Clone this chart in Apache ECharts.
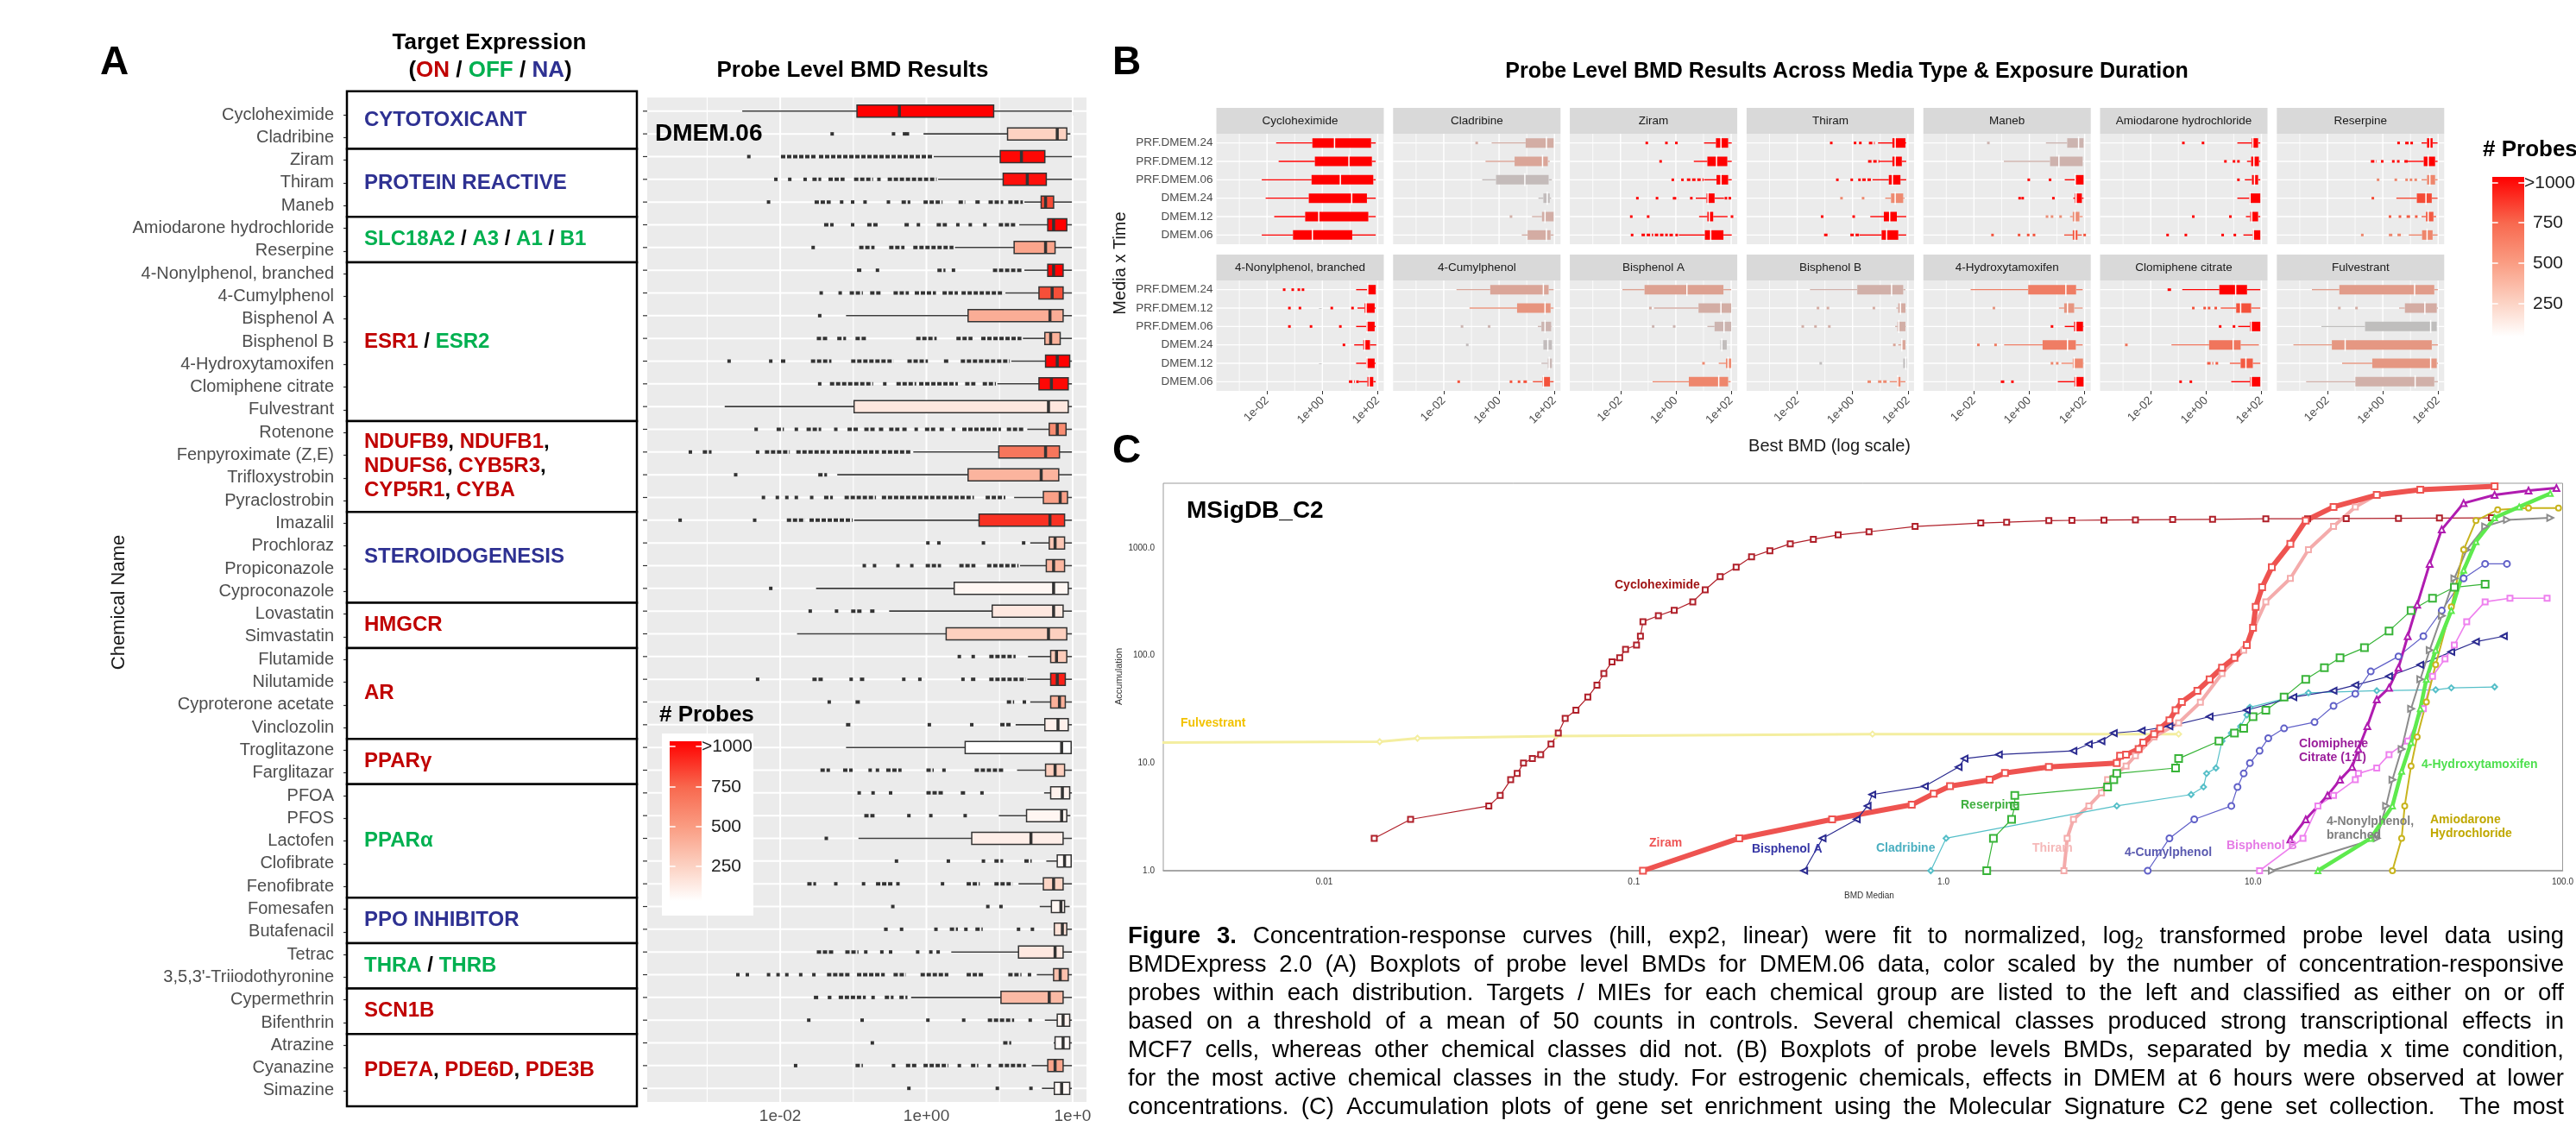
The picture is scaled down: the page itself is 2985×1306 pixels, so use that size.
<!DOCTYPE html>
<html><head><meta charset="utf-8">
<script src="https://cdn.jsdelivr.net/npm/echarts/dist/echarts.min.js"></script>
<style>html,body{margin:0;padding:0;background:#fff;}#c{width:2985px;height:1306px;}</style>
</head><body><div id="c"></div>
<script>
const FONT = '"Liberation Sans", Arial, Helvetica, sans-serif';

// ================= DATA: Panel A (DMEM.06 probe-level BMDs, log10 units) =================
const chemicals = ['Cycloheximide','Cladribine','Ziram','Thiram','Maneb','Amiodarone hydrochloride','Reserpine',
 '4-Nonylphenol, branched','4-Cumylphenol','Bisphenol A','Bisphenol B','4-Hydroxytamoxifen','Clomiphene citrate','Fulvestrant',
 'Rotenone','Fenpyroximate (Z,E)','Trifloxystrobin','Pyraclostrobin','Imazalil','Prochloraz','Propiconazole','Cyproconazole',
 'Lovastatin','Simvastatin','Flutamide','Nilutamide','Cyproterone acetate','Vinclozolin','Troglitazone','Farglitazar',
 'PFOA','PFOS','Lactofen','Clofibrate','Fenofibrate','Fomesafen','Butafenacil','Tetrac',"3,5,3'-Triiodothyronine",
 'Cypermethrin','Bifenthrin','Atrazine','Cyanazine','Simazine'];
// [whisker low, Q1, median, Q3, whisker high] in log10(BMD)
const boxA = [
 [-2.52,-0.95,-0.37,0.92,1.99],[-0.04,1.11,1.79,1.92,1.97],[0.10,1.01,1.30,1.62,1.99],[0.16,1.05,1.38,1.64,1.99],
 [1.34,1.57,1.63,1.74,1.99],[1.27,1.66,1.74,1.92,1.99],[0.39,1.20,1.63,1.76,1.99],[1.34,1.66,1.74,1.87,1.99],
 [1.08,1.54,1.72,1.87,1.99],[-1.10,0.57,1.69,1.87,1.99],[1.32,1.62,1.70,1.83,1.99],[1.16,1.63,1.79,1.96,1.99],
 [0.97,1.54,1.71,1.94,1.99],[-2.76,-0.99,1.67,1.94,1.99],[1.38,1.68,1.79,1.91,1.99],[-0.18,0.99,1.63,1.82,1.99],
 [-1.22,0.57,1.57,1.81,1.99],[1.20,1.60,1.83,1.93,1.99],[-0.99,0.72,1.69,1.89,1.99],[1.42,1.68,1.76,1.89,1.99],
 [1.28,1.64,1.74,1.89,1.99],[-1.51,0.38,1.74,1.94,1.99],[-0.51,0.90,1.74,1.87,1.99],[-1.77,0.27,1.67,1.92,1.99],
 [1.39,1.70,1.78,1.92,1.99],[1.38,1.70,1.79,1.90,1.99],[1.42,1.70,1.82,1.90,1.99],[1.22,1.62,1.80,1.94,1.99],
 [-1.10,0.53,1.85,1.98,1.99],[1.24,1.63,1.76,1.89,1.99],[1.61,1.70,1.86,1.96,1.99],[0.99,1.37,1.85,1.92,1.97],
 [-0.93,0.62,1.43,1.87,1.99],[1.64,1.79,1.89,1.98,1.99],[1.26,1.60,1.74,1.87,1.99],[1.55,1.71,1.84,1.89,1.96],
 [1.74,1.75,1.86,1.92,1.99],[0.34,1.26,1.76,1.87,1.99],[1.51,1.74,1.83,1.94,1.99],[-0.21,1.02,1.68,1.87,1.99],
 [1.62,1.79,1.87,1.96,1.99],[1.74,1.76,1.87,1.96,1.99],[1.44,1.66,1.76,1.87,1.99],[1.58,1.75,1.85,1.96,1.99]];
const probesA = [1000,240,980,960,800,1000,450,1000,790,410,390,1000,980,130,560,650,380,470,870,290,370,45,
 120,250,270,920,400,80,5,255,70,50,90,30,225,45,160,120,320,350,60,25,450,35];
// outliers: single log10 values or [from, to] runs of dense points
const outliersA = [
 [], [-1.29,-0.45,-0.30,-0.26], [-2.43,[-1.99,-1.50],[-1.47,0.08]],
 [-2.06,-1.87,-1.66,[-1.56,-1.44],[-1.34,-1.12],[-0.99,-0.73],-0.65,[-0.53,0.14]],
 [-2.16,[-1.53,-1.31],-1.16,-1.01,-0.84,-0.52,[-0.34,-0.22],[-0.04,0.22],[0.44,0.53],[0.67,0.75],[0.85,1.05],[1.12,1.32]],
 [[-1.40,-1.27],-1.01,[-0.81,-0.65],[-0.30,-0.24],-0.11,[0.14,0.28],0.43,0.60,0.80,[0.99,1.22]],
 [-1.55,[-0.92,-0.71],[-0.51,-0.30],[-0.18,0.37]],
 [[-0.95,-0.89],-0.67,[0.15,0.26],[0.37,0.41],[0.91,1.32]],
 [-1.44,-1.18,[-1.05,-0.87],[-0.77,-0.61],[-0.45,-0.24],[-0.16,0.13],[0.22,0.43],[0.48,1.06]],
 [-1.46],
 [[-1.50,-1.34],[-1.22,-1.10],[-0.97,-0.82],[-0.14,0.14],[0.41,0.63],[0.75,1.30]],
 [-2.70,-2.13,[-1.99,-1.91],[-1.58,-1.30],[-1.03,-0.45],[-0.26,0.02],[0.24,0.32],[0.47,1.14]],
 [-1.46,[-1.32,-0.73],-0.57,[-0.41,-0.14],[-0.10,0.43],[0.53,0.67],[0.77,0.95]],
 [],
 [-2.33,[-2.05,-1.95],-1.78,[-1.64,-1.44],-1.24,[-1.08,-0.93],[-0.85,-0.69],[-0.65,-0.57],[-0.51,-0.37],[-0.33,-0.26],-0.14,[-0.02,0.12],[0.18,0.24],0.37,[0.49,1.02],[1.10,1.34]],
 [-3.23,[-3.06,-2.94],-2.31,[-2.21,-1.87],[-1.78,-1.32],[-1.28,-0.65],[-0.61,-0.22]],
 [-2.61,[-1.48,-1.36]],
 [-2.23,-2.04,-1.91,-1.78,-1.57,[-1.40,-1.28],[-1.12,-0.69],[-0.61,0.65],[0.81,1.08]],
 [-3.37,-2.35,[-1.91,-1.66],[-1.60,-1.01]],
 [0.02,0.17,0.78,1.33],
 [-0.85,-0.71,-0.39,-0.20,[-0.01,0.20],[0.45,0.67],[0.83,1.26]],
 [-2.13],
 [-1.59,-1.23,[-1.03,-0.87],[-0.77,-0.70]],
 [],
 [0.45,0.64,[0.86,1.22]],
 [-2.31,[-1.56,-1.40],-1.03,[-0.91,-0.83],-0.31,-0.09,0.50,[0.61,0.69],[0.86,1.36]],
 [-1.33,[-0.97,-0.89],[1.10,1.20],[1.34,1.38]],
 [[-1.10,-1.02],0.04,0.62,[1.01,1.16]],
 [],
 [[-1.45,-1.32],[-1.14,-1.01],-0.77,-0.67,[-0.55,-0.34],[0.00,0.10],0.24,[0.66,1.05]],
 [-0.92,-0.73,-0.49,[0.00,0.24],[0.47,0.53],0.76],
 [[-0.85,-0.71],-0.24,0.06,0.53],
 [-1.37],
 [-0.41,0.30,0.78,[0.93,1.05],[1.34,1.44]],
 [[-1.63,-1.51],-1.24,-0.86,[-0.69,-0.45],-0.39,0.22,[0.55,0.73],[0.93,1.18]],
 [-0.46,0.84,1.02],
 [[-0.58,-0.53],-0.34,0.13,[0.32,0.43],0.54,[0.67,0.77],1.26,1.45],
 [[-1.50,-1.26],[-1.11,-0.93],-0.83,-0.61,-0.49,-0.12,0.06,0.16],
 [-2.58,-2.45,-2.16,-2.03,-1.91,-1.72,-1.54,[-1.36,-1.05],[-0.95,-0.57],[-0.45,-0.28],[-0.08,0.30],[0.55,0.79],[1.12,1.30],1.41],
 [[-1.54,-1.46],[-1.35,-1.30],[-1.20,-0.83],-0.73,[-0.57,-0.45],[-0.37,-0.26]],
 [-1.61,-0.88,0.02,0.51,[0.84,1.20],1.42],
 [-0.74,[1.05,1.16]],
 [-1.79,[-0.97,-0.87],-0.45,[-0.28,-0.12],[-0.04,0.30],0.45,[0.61,0.71],0.86,[0.99,1.36]],
 [-0.24,0.97,1.43]];
// target groups: row ranges and label parts [text, status]
const groupRows = [[0,1],[2,4],[5,6],[7,13],[14,17],[18,21],[22,23],[24,27],[28,29],[30,34],[35,36],[37,38],[39,40],[41,43]];
const groupLabels = [
 [[['CYTOTOXICANT','NA']]],
 [[['PROTEIN REACTIVE','NA']]],
 [[['SLC18A2','OFF'],[' / ','SEP'],['A3','OFF'],[' / ','SEP'],['A1','OFF'],[' / ','SEP'],['B1','OFF']]],
 [[['ESR1','ON'],[' / ','SEP'],['ESR2','OFF']]],
 [[['NDUFB9','ON'],[', ','SEP'],['NDUFB1','ON'],[',','SEP']],[['NDUFS6','ON'],[', ','SEP'],['CYB5R3','ON'],[',','SEP']],[['CYP5R1','ON'],[', ','SEP'],['CYBA','ON']]],
 [[['STEROIDOGENESIS','NA']]],
 [[['HMGCR','ON']]],
 [[['AR','ON']]],
 [[['PPARγ','ON']]],
 [[['PPARα','OFF']]],
 [[['PPO INHIBITOR','NA']]],
 [[['THRA','OFF'],[' / ','SEP'],['THRB','OFF']]],
 [[['SCN1B','ON']]],
 [[['PDE7A','ON'],[', ','SEP'],['PDE6D','ON'],[', ','SEP'],['PDE3B','ON']]]];

// ================= DATA: Panel B =================
const facetNames = ['Cycloheximide','Cladribine','Ziram','Thiram','Maneb','Amiodarone hydrochloride','Reserpine',
 '4-Nonylphenol, branched','4-Cumylphenol','Bisphenol A','Bisphenol B','4-Hydroxytamoxifen','Clomiphene citrate','Fulvestrant'];
const conditions = ['PRF.DMEM.24','PRF.DMEM.12','PRF.DMEM.06','DMEM.24','DMEM.12','DMEM.06'];
const boxB = [
 [[-1.67,-0.36,0.44,1.76,1.93],[-1.58,-0.27,0.96,1.79,1.93],[-2.19,-0.39,0.65,1.84,1.93],[-2.05,-0.49,1.06,1.61,1.93],[-1.74,-0.62,-0.13,1.66,1.93],[-2.19,-1.06,-0.36,1.08,1.93]],
 [[-0.27,0.96,1.71,1.97,1.97],[-0.49,0.56,1.57,1.76,1.83],[-0.61,-0.11,0.93,1.79,1.91],[1.42,1.60,1.74,1.83,1.88],[1.19,1.55,1.66,1.97,1.97],[0.82,1.03,1.71,1.86,1.97]],
 [[1.02,1.45,1.63,1.89,2.02],[0.65,1.14,1.47,1.86,2.02],[1.02,1.47,1.63,1.89,2.02],[0.72,1.11,1.16,1.40,1.74],[0.84,1.14,1.21,1.35,1.87],[0.11,1.05,1.26,1.72,2.02]],
 [[0.92,1.44,1.54,1.91,1.94],[0.97,1.44,1.54,1.78,1.94],[0.72,1.31,1.44,1.73,1.94],[1.18,1.39,1.54,1.83,1.88],[0.64,1.13,1.34,1.60,1.94],[0.25,1.05,1.23,1.65,1.94]],
 [[0.60,1.37,1.78,1.96,1.96],[-0.92,0.75,1.07,1.93,1.93],[1.28,1.65,1.66,1.96,1.96],[1.59,1.65,1.69,1.90,1.96],[1.47,1.57,1.65,1.81,1.93],[1.26,1.57,1.65,1.74,1.90]],
 [[1.13,1.65,1.69,1.88,1.96],[1.48,1.63,1.73,1.91,1.96],[1.40,1.66,1.75,1.88,1.96],[1.13,1.57,1.59,1.96,1.96],[1.44,1.60,1.65,1.88,1.96],[1.35,1.69,1.71,1.96,1.96]],
 [[1.40,1.60,1.70,1.80,1.98],[0.90,1.48,1.64,1.89,1.98],[1.40,1.60,1.70,1.89,1.98],[0.49,1.23,1.56,1.77,1.98],[1.40,1.56,1.64,1.83,1.93],[0.94,1.42,1.60,1.80,1.98]],
 [[1.22,1.63,1.64,1.93,1.93],[1.27,1.53,1.58,1.89,1.93],[1.22,1.58,1.61,1.89,1.93],[1.15,1.48,1.53,1.72,1.95],[1.22,1.58,1.61,1.89,1.93],[1.32,1.63,1.69,1.84,1.93]],
 [[-1.54,-0.32,1.60,1.79,1.97],[-1.07,0.65,1.66,1.86,1.97],[1.40,1.53,1.66,1.88,1.91],[1.60,1.60,1.76,1.91,1.91],[1.53,1.76,1.81,1.91,1.91],[1.22,1.57,1.60,1.84,1.97]],
 [[-1.93,-1.13,0.40,1.72,2.00],[-0.79,0.82,1.63,2.00,2.00],[1.14,1.40,1.74,2.00,2.00],[1.61,1.61,1.66,1.84,1.84],[1.55,1.81,1.89,2.00,2.00],[-0.84,0.47,1.55,1.89,1.98]],
 [[-1.54,0.17,1.41,1.83,1.91],[1.58,1.65,1.73,1.91,1.91],[1.54,1.62,1.67,1.91,1.93],[1.65,1.75,1.78,1.91,1.91],[1.83,1.83,1.92,1.96,1.96],[1.34,1.60,1.63,1.73,1.91]],
 [[-2.12,-0.04,1.32,1.69,1.93],[1.07,1.26,1.38,1.62,1.93],[1.28,1.62,1.68,1.94,1.96],[-0.91,0.48,1.38,1.68,1.93],[1.16,1.57,1.62,1.94,1.96],[1.03,1.63,1.68,1.96,1.96]],
 [[-0.86,0.48,1.07,1.48,1.96],[0.53,1.09,1.25,1.63,1.96],[1.16,1.59,1.63,1.96,1.96],[-1.25,0.11,0.98,1.25,1.91],[0.86,1.25,1.44,1.69,1.96],[0.91,1.59,1.63,1.96,1.96]],
 [[-2.56,-1.57,1.15,1.86,1.99],[0.59,0.80,1.52,1.95,1.99],[-2.22,-0.64,1.73,1.95,1.95],[-3.23,-1.84,-1.36,1.77,1.99],[-1.47,-0.38,1.73,1.95,1.99],[-2.77,-0.99,1.17,1.86,1.99]]];
const probesB = [
 [1000,1000,1000,1000,1000,1000],[230,300,60,40,220,240],[1000,1000,1000,1000,1000,1000],[1000,1000,1000,500,1000,1000],
 [150,170,1000,1000,480,760],[1000,1000,1000,1000,1000,1000],[1000,1000,520,780,720,520],
 [1000,1000,1000,1000,1000,1000],[300,440,150,40,110,760],[340,230,150,30,500,520],[200,250,220,300,20,500],
 [560,430,1000,560,520,1000],[1000,760,1000,600,720,1000],[380,240,10,420,420,200]];
const outliersB = [
 [[],[],[],[],[],[]],
 [[-0.81],[],[],[],[0.43],[]],
 [[-1.05,-0.34,0.02],[-0.55],[-0.11,0.24,[0.40,1.00]],[-1.39,-0.68,[-0.11,0.08],0.56,1.81,1.95],[-1.61,-1.00,2.03],[-1.58,[-1.24,-0.82],[-0.76,-0.29],[-0.23,-0.05],[0.03,0.11]]],
 [[-0.77,0.09,0.28,[0.59,0.80]],[[0.56,0.97]],[-0.55,-0.03,0.25,[0.35,0.72]],[-0.40,[0.38,0.46]],[-1.10,0.04],[[-1.03,-0.84],[-0.08,0.25]]],
 [[-1.48],[],[-0.02,0.75],[-0.35,-0.24,0.87],[0.64,0.82,1.13],[-1.33,-0.37,-0.04,0.17,2.00]],
 [[-0.82,-0.11],[0.70,1.01,1.17],[1.17],[],[-0.46,0.88],[-1.39,-0.73,0.60,1.04]],
 [[0.57,[0.81,1.09]],[[-0.43,-0.23],-0.02,0.38,0.56,[0.78,0.90]],[-0.17,0.47,0.86,1.02,1.19],[-0.36],[0.26,0.62,[0.86,0.99],1.21],[-0.74,[0.22,0.37],[0.53,0.72]]],
 [[-1.38,-1.07,-0.85,-0.70],[-1.19,-0.81,0.34,1.09],[-1.19,-0.41,0.65],[0.78],[],[[0.96,1.17],1.27]],
 [[],[],[-1.34,-0.36],[-1.15],[],[-1.46,[0.43,0.51],0.72,[0.88,1.03]]],
 [[],[-0.92],[-0.82,-0.06],[],[1.00],[]],
 [[],[-1.25,-0.89,0.77],[-1.80,-1.34,-0.84],[1.51],[-1.15],[[0.54,0.72],[0.92,1.28]]],
 [[],[-1.28],[0.82],[-1.84,-1.22],[0.82,1.01],[[-1.03,-0.86],-0.61]],
 [[[-1.39,-1.23]],[-0.46,-0.05,0.11,0.35],[0.51,1.01],[-2.88],[[0.04,0.26],[0.39,0.48]],[-0.92,-0.55]],
 [[],[-1.57,-0.95],[],[],[],[]]];

// ================= DATA: Panel C (BMD median vs accumulation) =================
const accCycloheximide = [[0.0145,2],[0.019,3],[0.034,4],[0.037,5],[0.040,7],[0.042,8],[0.044,10],[0.047,11],[0.050,12],[0.054,15],[0.057,19],[0.060,26],[0.065,31],[0.071,41],[0.076,53],[0.080,68],[0.085,87],[0.090,95],[0.094,114],[0.102,125],[0.105,151],[0.107,206],[0.120,234],[0.135,263],[0.155,315],[0.170,407],[0.19,540],[0.214,660],[0.24,825],[0.275,940],[0.32,1090],[0.38,1200],[0.457,1320],[0.575,1410],[0.81,1580],[1.32,1700],[1.6,1730],[2.19,1790],[2.6,1800],[3.3,1810],[4.17,1820],[5.5,1830],[7.4,1840],[11.0,1860],[15,1860],[20,1870],[29.5,1880],[40,1890],[58.9,1900]];
const accZiram = [[0.107,1],[0.219,2],[0.437,3],[0.79,4.1],[0.93,5.2],[1.05,6.1],[1.41,7],[1.58,8.1],[2.19,9.2],[3.63,10],[3.72,11.7],[3.89,12],[4.27,13.5],[4.42,15.5],[4.79,18.6],[5.01,21],[5.37,25],[5.62,31],[5.89,37],[6.61,47],[7.24,60],[7.94,77],[8.71,95],[9.55,125],[10.0,181],[10.2,283],[10.7,430],[11.5,660],[13.2,1090],[14.8,1790],[18.2,2400],[25.1,3100],[34.7,3470],[60.3,3730]];
const accThiram = [[2.45,1],[2.51,2],[2.63,3],[2.95,4],[3.24,5.3],[3.39,7],[3.89,9.4],[4.17,11.7],[4.79,17.5],[5.75,23.6],[6.76,36.8],[7.94,68],[9.33,112],[11.0,315],[13.2,520],[15.1,960],[18.2,1580],[21.4,2400],[25.1,3100]];
const accBisphenolA = [[0.355,1],[0.407,2],[0.525,3],[0.569,4],[0.589,5.1],[0.871,6.1],[1.12,9.2],[1.17,11],[1.51,12],[2.63,13],[2.95,15],[3.24,16],[3.55,19],[4.37,20],[5.37,22],[7.24,27],[9.55,31],[13.5,41],[18.2,47],[21.4,53],[27.5,64],[34.7,82],[43.7,108],[52.5,134],[64.6,151]];
const accCladribine = [[0.91,1],[1.02,2],[3.63,4],[6.31,5.1],[6.92,6],[7.08,8],[7.59,9],[7.94,16],[8.51,19],[9.12,22],[9.55,28],[9.77,33],[15.1,45],[25.1,47],[38.9,48],[43.7,50],[60.3,51]];
const accReserpine = [[1.38,1],[1.45,2],[1.66,3],[1.70,4],[1.70,5],[3.39,6],[3.55,7],[3.63,8],[5.62,9],[5.75,11],[7.76,16],[8.71,19],[9.33,21],[10.0,27],[11.0,31],[12.6,41],[14.8,60],[17.0,77],[19.1,95],[22.9,118],[27.5,169],[32.4,261],[38.0,340],[44.7,430],[56.2,460]];
const accCumylphenol = [[4.57,1],[5.37,2],[6.46,3],[8.51,4],[8.91,6],[9.33,8],[9.77,10],[10.5,13],[11.2,17],[12.6,21],[15.8,24],[18.2,34],[21.4,44],[24.0,71],[29.5,98],[35.5,151],[40.7,261],[47.9,520],[56.2,710],[66.1,710]];
const accClomiphene = [[13.2,1.95],[14.8,3],[17.4,5],[19.1,7],[20.9,9.2],[21.9,13.5],[23.4,22],[25.1,39],[27.5,50],[29.5,77],[31.6,151],[33.9,296],[37.2,710],[40.7,1480],[47.9,2600],[60.3,3100],[77.6,3400],[95.5,3600]];
const accBisphenolB = [[10.5,1],[14.5,2],[16.2,4],[18.2,5],[21.4,7],[21.9,8],[25.1,9],[27.5,12],[31.6,16],[35.5,32],[38.0,64],[41.7,93],[44.7,125],[49.0,206],[56.2,315],[67.6,340],[89.1,340]];
const accNonylphenol = [[11.5,1],[25.1,2],[26.9,4],[28.2,7],[30.2,13.5],[32.4,32],[34.7,60],[37.2,112],[40.7,234],[44.7,520],[49.0,960],[56.2,1580],[66.1,1820],[91.2,1900]];
const accHydroxytamoxifen = [[16.2,1],[24.0,2],[28.2,4],[30.2,8.4],[32.4,15.5],[34.7,32],[36.3,60],[38.9,112],[43.7,261],[47.9,620],[52.5,1140],[60.3,1900],[72.4,2400],[91.2,3200]];
const accAmiodarone = [[28.2,1],[30.2,2],[30.9,4],[32.4,9.4],[33.9,17.5],[36.3,37],[38.9,82],[43.7,283],[47.9,960],[52.5,1790],[61.7,2260],[77.6,2340],[97,2340]];
const accFulvestrant = [[0.0030,15.5],[0.0151,15.8],[0.020,17],[0.056,17.8],[0.59,18.6],[5.75,18.6]];

// tick positions (log10 decades) and legend ticks
const decadeTicks = [-3,-2,-1,0,1,2];
const labelTicks = [-2,0,2];
const legendValues = ['>1000','750','500','250'];

const captionLines = [
 '*Figure *3. Concentration-response curves (hill, exp2, linear) were fit to normalized, log~2 transformed probe level data using',
 'BMDExpress 2.0 (A) Boxplots of probe level BMDs for DMEM.06 data, color scaled by the number of concentration-responsive',
 'probes within each distribution. Targets / MIEs for each chemical group are listed to the left and classified as either on or off',
 'based on a threshold of a mean of 50 counts in controls. Several chemical classes produced strong transcriptional effects in',
 'MCF7 cells, whereas other chemical classes did not. (B) Boxplots of probe levels BMDs, separated by media x time condition,',
 'for the most active chemical classes in the study. For estrogenic chemicals, effects in DMEM at 6 hours were observed at lower',
 'concentrations. (C) Accumulation plots of gene set enrichment using the Molecular Signature C2 gene set collection.  The most'];

// ================= helpers =================
function hex2rgb(h){return [parseInt(h.slice(1,3),16),parseInt(h.slice(3,5),16),parseInt(h.slice(5,7),16)];}
function ramp(stops,v){
  if(v<=stops[0][0]) return stops[0][1];
  for(let k=1;k<stops.length;k++){ if(v<=stops[k][0]){ const t=(v-stops[k-1][0])/(stops[k][0]-stops[k-1][0]);
    const a=hex2rgb(stops[k-1][1]), b=hex2rgb(stops[k][1]); return 'rgb('+a.map((c,j)=>Math.round(c+(b[j]-c)*t)).join(',')+')'; } }
  return stops[stops.length-1][1];
}
const scaleA=[[0,'#FFFFFF'],[250,'#FDD0BF'],[500,'#F99A7F'],[750,'#F45E44'],[1000,'#FF0000']];
const scaleB=[[0,'#BEBEBE'],[100,'#C8B9B8'],[250,'#D5ABA1'],[400,'#E39A87'],[500,'#EE8A70'],[750,'#F4553D'],[1000,'#FF0000']];
const colA=v=>ramp(scaleA,v), colB=v=>ramp(scaleB,v);
function flatOut(list,counts){const o=[];list.forEach((row,i)=>row.forEach(v=>{const c=counts?counts[i]:0; if(Array.isArray(v)) o.push([i,v[0],v[1],c]); else o.push([i,v,v,c]);}));return o;}
function fmtLog(last){return v=>{const r=Math.round(v); if(Math.abs(v-r)>1e-6) return ''; if(r===-2) return '1e-02'; if(r===0) return '1e+00'; if(r===2) return last; return '';};}
function cLab(v){const l=Math.log10(v), e=Math.round(l); if(Math.abs(l-e)>1e-6) return ''; const p=Math.pow(10,e); return e<0?p.toFixed(-e):p.toFixed(1);}

function gridLineSeries(ai,majorW,minorW){
  return {type:'custom',xAxisIndex:ai,yAxisIndex:ai,silent:true,animation:false,z:1,
    data:decadeTicks.map(d=>[d,0]),encode:{x:0,y:1},
    renderItem(params,api){const cs=params.coordSys,d=api.value(0),x=api.coord([d,0])[0];
      return {type:'line',shape:{x1:x,y1:cs.y,x2:x,y2:cs.y+cs.height},style:{stroke:'#FFFFFF',lineWidth:(Math.abs(d)%2===0)?majorW:minorW}};}};
}
function boxSeries(ai,rows,o){
  return {type:'custom',xAxisIndex:ai,yAxisIndex:ai,silent:true,animation:false,z:2,
    data:rows,encode:{x:[1,2,3,4,5],y:0},
    renderItem(params,api){
      const cs=params.coordSys,i=api.value(0),X=v=>api.coord([v,i])[0],y=api.coord([api.value(1),i])[1];
      const fill=o.color(api.value(6)),wc=o.whisker||fill,h=o.boxH;
      const ch=[{type:'line',shape:{x1:cs.x,y1:y,x2:cs.x+cs.width,y2:y},style:{stroke:'#FFFFFF',lineWidth:o.rowW}}];
      if(o.tick) ch.push({type:'line',shape:{x1:cs.x-5,y1:y,x2:cs.x,y2:y},style:{stroke:'#333333',lineWidth:1.2}});
      const xl=X(api.value(1)),x1=X(api.value(2)),xm=X(api.value(3)),x3=X(api.value(4)),xh=X(api.value(5));
      ch.push({type:'line',shape:{x1:xl,y1:y,x2:x1,y2:y},style:{stroke:wc,lineWidth:o.whiskerW}});
      ch.push({type:'line',shape:{x1:x3,y1:y,x2:xh,y2:y},style:{stroke:wc,lineWidth:o.whiskerW}});
      ch.push({type:'rect',shape:{x:x1,y:y-h/2,width:Math.max(x3-x1,1),height:h},style:{fill:fill,stroke:o.border||null,lineWidth:o.borderW||0}});
      ch.push({type:'line',shape:{x1:xm,y1:y-h/2-o.medExt,x2:xm,y2:y+h/2+o.medExt},style:{stroke:o.median,lineWidth:o.medianW}});
      return {type:'group',children:ch};
    }};
}
function outlierSeries(ai,rows,size,colorFn){
  return {type:'custom',xAxisIndex:ai,yAxisIndex:ai,silent:true,animation:false,z:3,
    data:rows,encode:{x:[1,2],y:0},
    renderItem(params,api){const i=api.value(0),p=api.coord([api.value(1),i]),q=api.coord([api.value(2),i]),c=colorFn(api.value(3));
      if(q[0]-p[0]<size) return {type:'rect',shape:{x:p[0]-size/2,y:p[1]-size/2,width:size,height:size},style:{fill:c}};
      return {type:'line',shape:{x1:p[0],y1:p[1],x2:q[0],y2:q[1]},style:{stroke:c,lineWidth:size,lineDash:[size+1,2]}};}};
}

const grids=[],xAxes=[],yAxes=[],series=[],graphics=[];
function T(text,x,y,size,opt){opt=opt||{};graphics.push({type:'text',z:100,x:x,y:y,rotation:opt.rot||0,silent:true,
  style:{text:text,x:0,y:0,fontSize:size,fontFamily:FONT,fontWeight:opt.bold?'bold':'normal',fill:opt.color||'#000',
  textAlign:opt.align||'left',textVerticalAlign:'middle',rich:opt.rich,lineHeight:opt.lh}});}

// ================= Panel A: target boxes + chemical labels (grid 0) =================
grids.push({left:402,top:119.85,width:336,height:1157.2});
xAxes.push({gridIndex:0,type:'value',min:0,max:1,show:false});
yAxes.push({gridIndex:0,type:'category',data:chemicals,inverse:true,offset:10,
  axisLine:{show:false},axisTick:{show:true,alignWithLabel:true,interval:0,length:4,lineStyle:{color:'#333',width:1.2}},
  axisLabel:{interval:0,fontSize:20,color:'#4D4D4D',fontFamily:FONT,margin:5},splitLine:{show:false}});
const richStyle=c=>({fill:c,fontSize:24,fontWeight:'bold',fontFamily:FONT,lineHeight:28});
const richTarget={ON:richStyle('#C00000'),OFF:richStyle('#00B050'),NA:richStyle('#2E3192'),SEP:richStyle('#000000')};
const groupRich=groupLabels.map(lines=>lines.map(parts=>parts.map(p=>'{'+p[1]+'|'+p[0]+'}').join('')).join('\n'));
const lastGroup=groupRows.length-1;
series.push({type:'custom',xAxisIndex:0,yAxisIndex:0,silent:true,animation:false,z:2,
  data:groupRows.map((r,k)=>[0,r[0],r[1],k]),encode:{x:0,y:[1,2]},
  renderItem(params,api){const cs=params.coordSys,band=api.size([0,1])[1],k=api.value(3);
    const yS=api.coord([0,api.value(1)])[1]-band/2-(k===0?14:0),yE=api.coord([0,api.value(2)])[1]+band/2+(k===lastGroup?5:0);
    return {type:'group',children:[
      {type:'rect',shape:{x:cs.x,y:yS,width:cs.width,height:yE-yS},style:{fill:'#FFFFFF',stroke:'#000000',lineWidth:2.5}},
      {type:'text',style:{x:cs.x+20,y:(yS+yE)/2,text:groupRich[k],textAlign:'left',textVerticalAlign:'middle',fontSize:24,fontWeight:'bold',fontFamily:FONT,lineHeight:28,rich:richTarget}}]};}});

// ================= Panel A: boxplots (grid 1) =================
grids.push({left:750,top:113,width:509,height:1164,show:true,backgroundColor:'#EBEBEB',borderWidth:0});
xAxes.push({gridIndex:1,type:'value',min:-3.82,max:2.19,splitLine:{show:false},axisLine:{show:false},
  axisTick:{show:true,length:5,customValues:labelTicks,lineStyle:{color:'#333'}},
  axisLabel:{show:true,customValues:labelTicks,formatter:fmtLog('1e+0'),fontSize:19,color:'#4D4D4D',fontFamily:FONT,margin:7}});
yAxes.push({gridIndex:1,type:'value',min:-0.6,max:43.6,inverse:true,show:false});
series.push(gridLineSeries(1,2,1.1));
series.push(boxSeries(1,boxA.map((b,i)=>[i].concat(b,[probesA[i]])),{boxH:14,rowW:2,tick:true,color:colA,whisker:'#3C3C3C',whiskerW:1.6,border:'#333333',borderW:1.5,median:'#333333',medianW:3.5,medExt:0}));
series.push(outlierSeries(1,flatOut(outliersA),4,()=>'#333333'));

// ================= Panel B: facets (grids 2..15) =================
const colLeft=1409.5,colStep=204.8,colW=194;
facetNames.forEach((name,f)=>{
  const r=f<7?0:1,c=f%7,gi=2+f,left=colLeft+c*colStep,top=r===0?155:325;
  grids.push({left:left,top:top,width:colW,height:128,show:true,backgroundColor:'#EBEBEB',borderWidth:0});
  xAxes.push({gridIndex:gi,type:'value',min:-3.83,max:2.22,splitLine:{show:false},axisLine:{show:false},
    axisTick:{show:r===1,length:4,customValues:labelTicks,lineStyle:{color:'#333'}},
    axisLabel:{show:r===1,customValues:labelTicks,formatter:fmtLog('1e+02'),rotate:45,fontSize:13.5,color:'#4D4D4D',fontFamily:FONT,margin:9}});
  yAxes.push({gridIndex:gi,type:'category',data:conditions,inverse:true,axisLine:{show:false},splitLine:{show:false},
    axisTick:{show:c===0,alignWithLabel:true,length:4,lineStyle:{color:'#333'}},
    axisLabel:{show:c===0,interval:0,fontSize:13.5,color:'#4D4D4D',fontFamily:FONT,margin:4}});
  series.push(gridLineSeries(gi,1.4,0.8));
  series.push(boxSeries(gi,boxB[f].map((b,i)=>[i].concat(b,[probesB[f][i]])),{boxH:11,rowW:1.4,tick:false,color:colB,whisker:null,whiskerW:1.4,border:null,median:'#FFFFFF',medianW:1.5,medExt:2}));
  series.push(outlierSeries(gi,flatOut(outliersB[f],probesB[f]),3,colB));
  graphics.push({type:'rect',z:100,silent:true,shape:{x:left,y:top-30,width:colW,height:30},style:{fill:'#D9D9D9'}});
  T(name,left+colW/2,top-15,13.5,{align:'center',color:'#1A1A1A'});
});

// ================= Panel C: accumulation plot (grid 16) =================
grids.push({left:1348,top:560,width:1641,height:449,show:true,backgroundColor:'#FFFFFF',borderColor:'#9A9A9A',borderWidth:1});
xAxes.push({gridIndex:16,type:'log',logBase:10,min:0.00302,max:100,splitLine:{show:false},axisTick:{show:false},
  axisLine:{show:true,lineStyle:{color:'#9A9A9A',width:1.5}},
  axisLabel:{formatter:cLab,fontSize:10,color:'#333',fontFamily:FONT,margin:8,showMaxLabel:true,showMinLabel:true,hideOverlap:false}});
yAxes.push({gridIndex:16,type:'log',logBase:10,min:1,max:3981,splitLine:{show:false},axisTick:{show:false},
  axisLine:{show:false},axisLabel:{formatter:cLab,fontSize:10,color:'#333',fontFamily:FONT,margin:10}});
function accSeries(name,data,color,width,symbol,size,rot){
  return {type:'line',name:name,xAxisIndex:16,yAxisIndex:16,data:data,animation:false,clip:true,
    lineStyle:{color:color,width:width},itemStyle:{color:color,borderColor:color,borderWidth:1.2},
    symbol:symbol,symbolSize:size,symbolRotate:rot||0,showSymbol:symbol!=='none',z:5};
}
series.push(accSeries('Fulvestrant',accFulvestrant,'#F4EEA0',3,'emptyDiamond',6));
series.push(accSeries('Cycloheximide',accCycloheximide,'#B0202A',1.2,'emptyRect',6));
series.push(accSeries('Thiram',accThiram,'#F4ABAB',4,'emptyRect',6));
series.push(accSeries('Ziram',accZiram,'#EE5350',6,'emptyRect',7));
series.push(accSeries('Cladribine',accCladribine,'#55BFC8',1.2,'emptyDiamond',6));
series.push(accSeries('Reserpine',accReserpine,'#38B438',1.2,'emptyRect',8));
series.push(accSeries('Bisphenol A',accBisphenolA,'#2B2B90',1.2,'emptyTriangle',7,90));
series.push(accSeries('4-Cumylphenol',accCumylphenol,'#6060C8',1.2,'emptyCircle',7));
series.push(accSeries('Bisphenol B',accBisphenolB,'#EE80EE',1.6,'emptyRect',6));
series.push(accSeries('Clomiphene Citrate (1:1)',accClomiphene,'#B01CB0',3,'emptyTriangle',7));
series.push(accSeries('4-Nonylphenol, branched',accNonylphenol,'#8C8C8C',2,'emptyTriangle',7,-90));
series.push(accSeries('Amiodarone Hydrochloride',accAmiodarone,'#C8B41E',2,'emptyCircle',6));
series.push(accSeries('4-Hydroxytamoxifen',accHydroxytamoxifen,'#5EEA4E',4.5,'emptyTriangle',6));

// ================= annotations =================
// Panel A
T('A',116,73,46,{bold:true});
T('Target Expression',567,50,26,{bold:true,align:'center'});
const rs=c=>({fill:c,fontSize:26,fontWeight:'bold',fontFamily:FONT});
T('{k|(}{on|ON}{k| / }{off|OFF}{k| / }{na|NA}{k|)}',568,82,26,{bold:true,align:'center',rich:{k:rs('#000'),on:rs('#C00000'),off:rs('#00B050'),na:rs('#2E3192')}});
T('Probe Level BMD Results',988,82,26,{bold:true,align:'center'});
T('Chemical Name',138,698,22,{rot:Math.PI/2,align:'center',color:'#1A1A1A'});
T('DMEM.06',759,155,28,{bold:true});
graphics.push({type:'rect',z:100,silent:true,shape:{x:767,y:850,width:106,height:211},style:{fill:'#FFFFFF'}});
T('# Probes',764,829,26,{bold:true});
const legendGrad=[{offset:0,color:'#FF0000'},{offset:0.29,color:'#F8694F'},{offset:0.535,color:'#FA9C82'},{offset:0.78,color:'#FCD1C2'},{offset:1,color:'#FFFFFF'}];
function legendBar(x,y,w,h,tickYs,labX,size){
  graphics.push({type:'rect',z:100,silent:true,shape:{x:x,y:y,width:w,height:h},style:{fill:{type:'linear',x:0,y:0,x2:0,y2:1,colorStops:legendGrad}}});
  tickYs.forEach((ty,k)=>{
    graphics.push({type:'line',z:101,silent:true,shape:{x1:x,y1:ty,x2:x+w*0.18,y2:ty},style:{stroke:'#FFFFFF',lineWidth:1.5}});
    graphics.push({type:'line',z:101,silent:true,shape:{x1:x+w*0.82,y1:ty,x2:x+w,y2:ty},style:{stroke:'#FFFFFF',lineWidth:1.5}});
    T(legendValues[k],k===0?x+w:labX,ty,size,{color:'#222'});
  });
}
legendBar(776,859,37,185,[865,912,958,1004],824,21);
// Panel B
T('B',1289,73,46,{bold:true});
T('Probe Level BMD Results Across Media Type & Exposure Duration',2140,83,25,{bold:true,align:'center'});
T('Media x Time',1298,305,20,{rot:Math.PI/2,align:'center',color:'#1A1A1A'});
T('Best BMD (log scale)',2120,517,20,{align:'center',color:'#1A1A1A'});
T('# Probes',2877,174,26,{bold:true});
legendBar(2888,205,37,185,[212,258,305,352],2935,21);
// Panel C
T('C',1289,523,46,{bold:true});
T('MSigDB_C2',1375,592,28,{bold:true});
T('Accumulation',1297,784,11,{rot:Math.PI/2,align:'center',color:'#333'});
T('BMD Median',2166,1038,10,{align:'center',color:'#333'});
const cLabels=[['Cycloheximide','#A01515',1871,678],['Fulvestrant','#F2C200',1368,838],['Ziram','#EE5555',1911,977],
 ['Bisphenol A','#3535A5',2030,984],['Cladribine','#4AAFC0',2174,983],['Reserpine','#3FAF3F',2272,933],['Thiram','#F5B8B8',2355,983],
 ['4-Cumylphenol','#5A5AB0',2462,988],['Bisphenol B','#E57AE5',2580,980],['Clomiphene\nCitrate (1:1)','#9B1F9B',2664,870],
 ['4-Nonylphenol,\nbranched','#7F7F7F',2696,960],['4-Hydroxytamoxifen','#4FE04F',2806,886],['Amiodarone\nHydrochloride','#C0A800',2816,958]];
cLabels.forEach(l=>T(l[0],l[2],l[3],14,{bold:true,color:l[1],lh:16}));

// caption (justified)
const mctx=document.createElement('canvas').getContext('2d');
function tw(t,size,bold){mctx.font=(bold?'bold ':'')+size+'px '+FONT;return mctx.measureText(t).width;}
const capL=1307,capR=2971,capY0=1085,capDY=33.1;
let capSize=27.5;
captionLines.forEach(line=>{ // shrink if any line would overflow
  const nat=line.replace(/[*~]/g,'').split(' ').reduce((s,t)=>s+tw(t,capSize,false),0)+tw(' ',capSize,false)*(line.split(' ').length-1)*0.6;
  if(nat>capR-capL) capSize=Math.floor(capSize*(capR-capL)/nat*10)/10;
});
captionLines.forEach((line,li)=>{
  const items=line.split(' ').map(t=>{
    if(t.startsWith('*')) return [{t:t.slice(1),s:capSize,b:true,dy:0}];
    if(t.indexOf('~')>=0){const ab=t.split('~');return [{t:ab[0],s:capSize,dy:0},{t:ab[1],s:Math.round(capSize*0.64),dy:capSize*0.32}];}
    return [{t:t,s:capSize,dy:0}];
  });
  const ws=items.map(it=>it.reduce((s,p)=>s+tw(p.t,p.s,p.b),0));
  const total=ws.reduce((a,b)=>a+b,0), gap=(capR-capL-total)/(items.length-1);
  let x=capL; const y=capY0+li*capDY;
  items.forEach((it,k)=>{let px=x; it.forEach(p=>{ if(p.t) T(p.t,px,y+p.dy,p.s,{bold:p.b,color:'#000'}); px+=tw(p.t,p.s,p.b);}); x+=ws[k]+gap;});
});

const chart=echarts.init(document.getElementById('c'),null,{renderer:'canvas',width:2985,height:1306});
chart.setOption({animation:false,backgroundColor:'#FFFFFF',grid:grids,xAxis:xAxes,yAxis:yAxes,series:series,graphic:{elements:graphics}});
</script></body></html>
